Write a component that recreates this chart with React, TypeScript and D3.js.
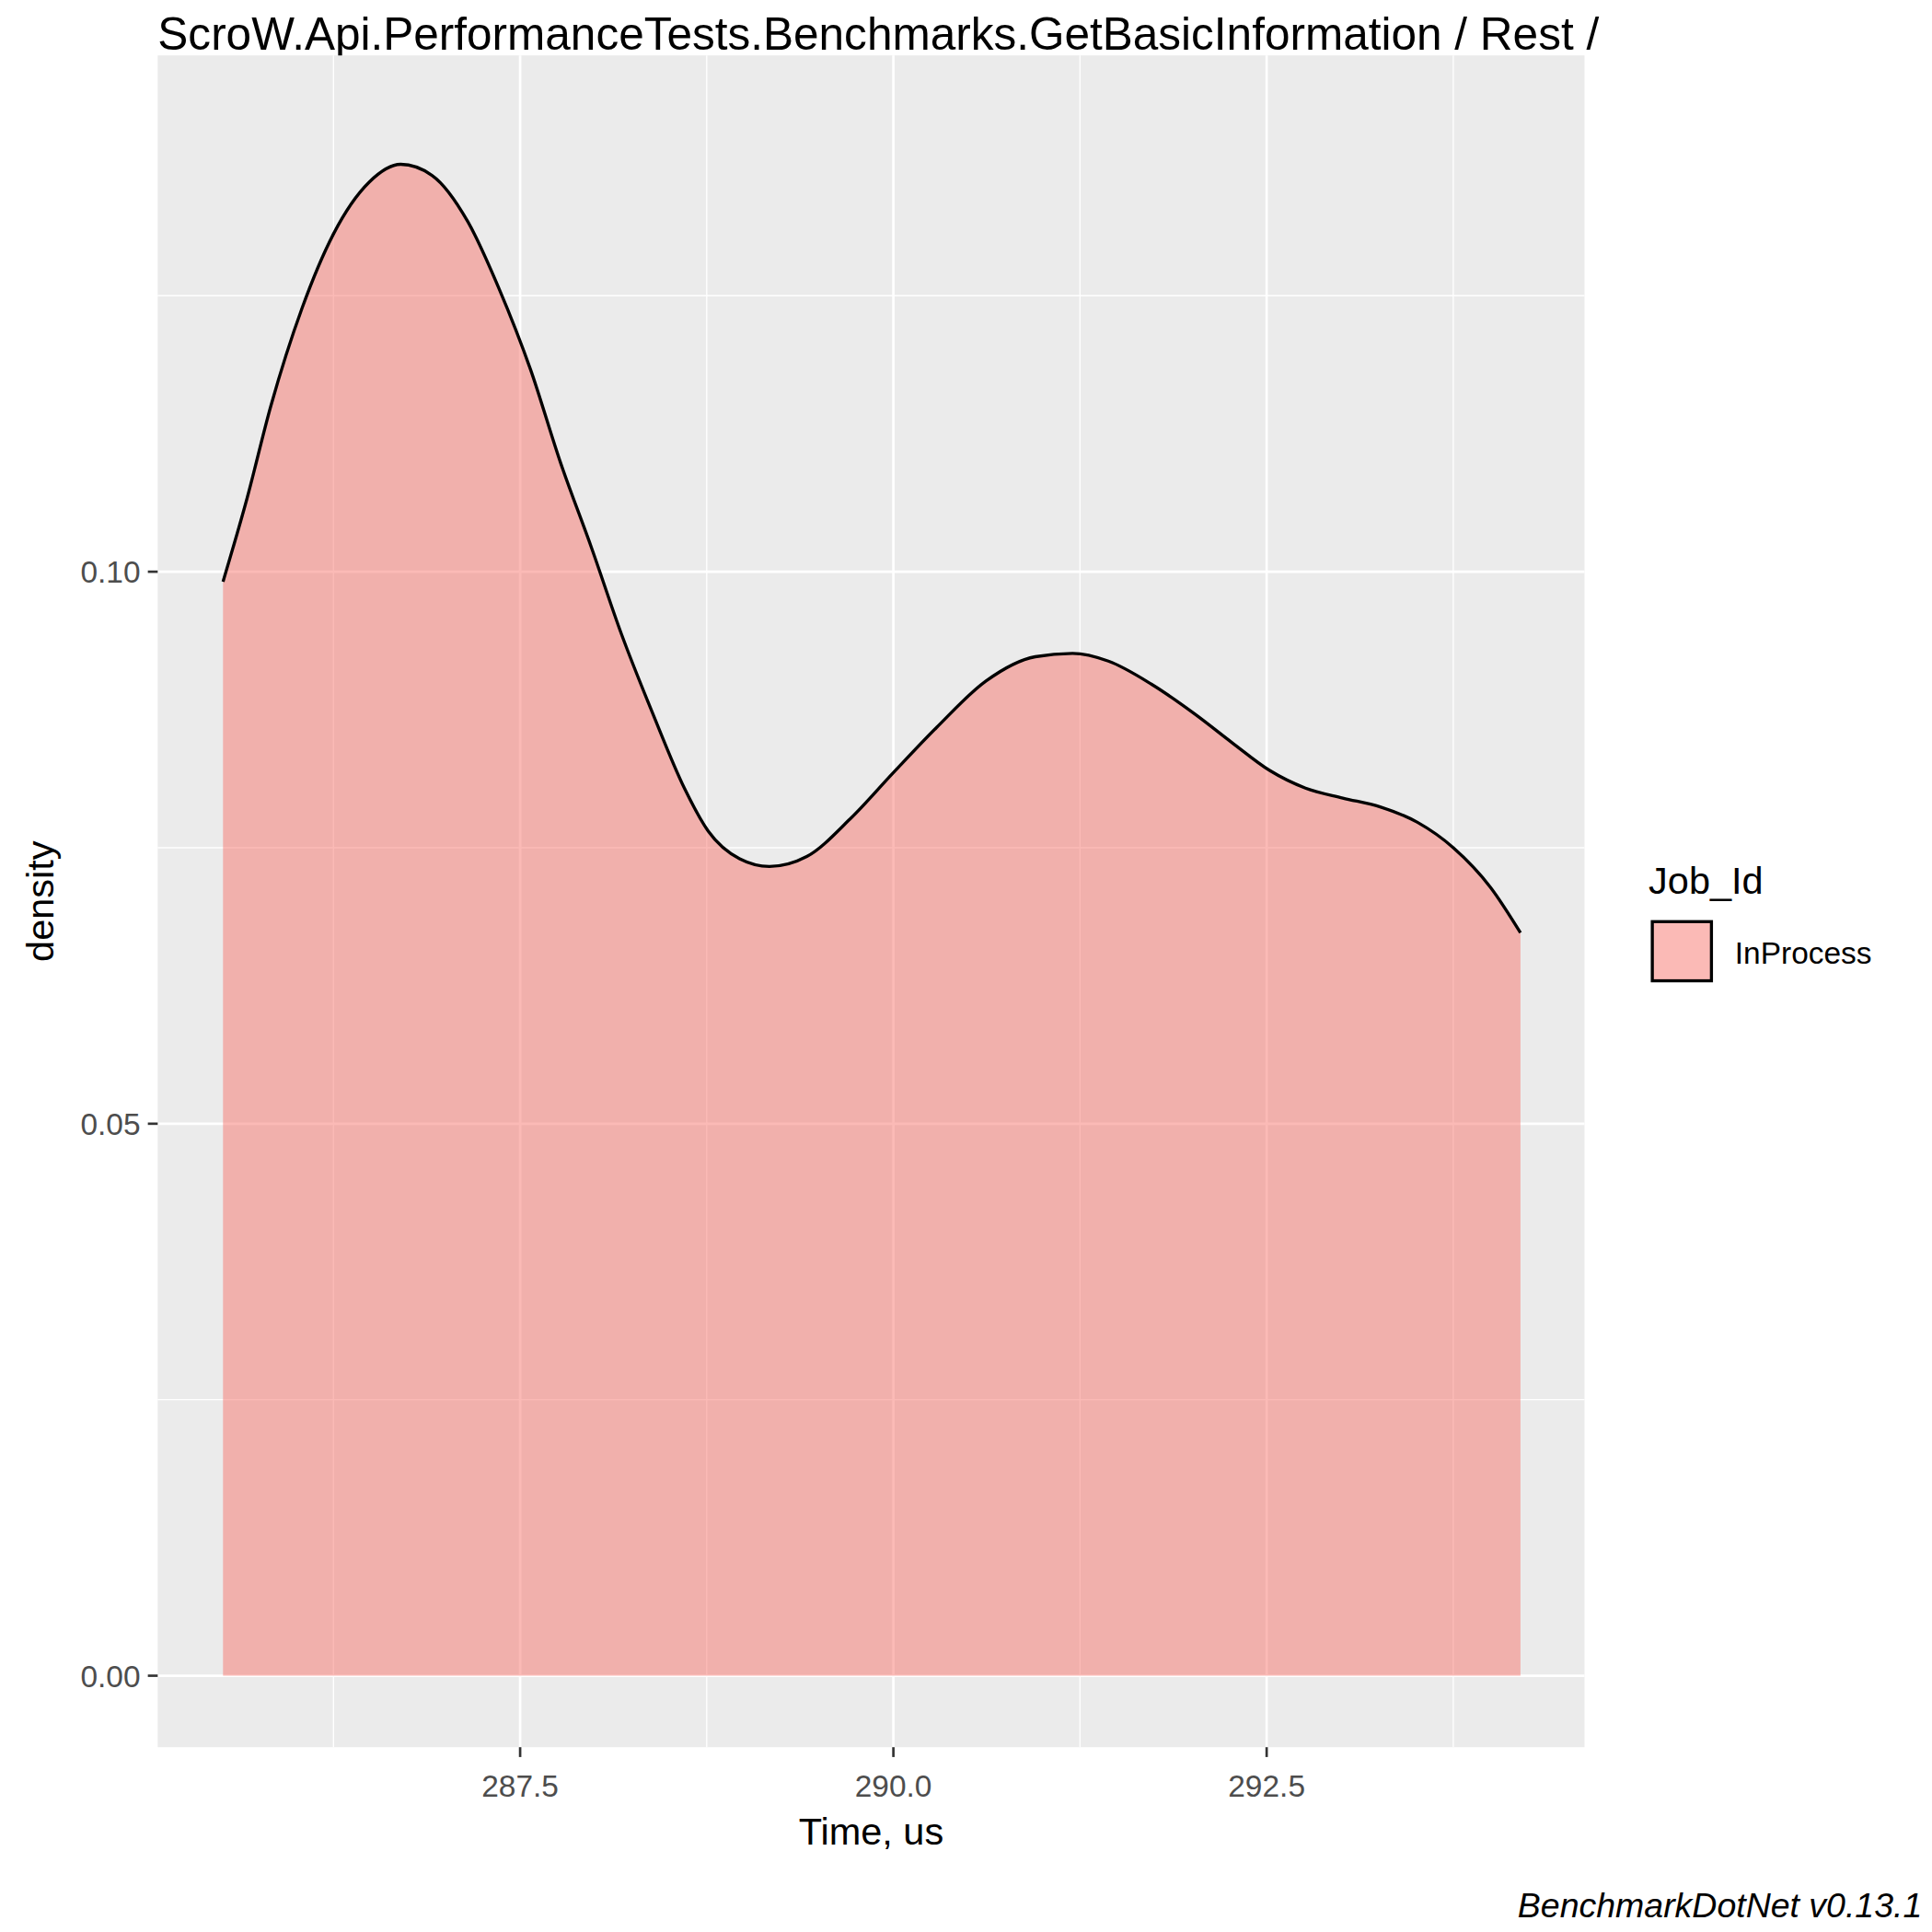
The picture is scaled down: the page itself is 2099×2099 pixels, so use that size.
import React from 'react';
import * as d3 from 'd3';

const title = 'ScroW.Api.PerformanceTests.Benchmarks.GetBasicInformation / Rest /';
const timeUs = [285.51, 285.67, 285.83, 286.04, 286.25, 286.49, 286.7, 286.91, 287.15, 287.36, 287.57, 287.77, 287.98, 288.18, 288.39, 288.6, 288.76, 288.97, 289.17, 289.42, 289.71, 290.0, 290.29, 290.62, 290.95, 291.2, 291.44, 291.73, 292.02, 292.27, 292.52, 292.76, 293.01, 293.26, 293.51, 293.75, 294.0, 294.2];
const density = [0.0991, 0.1066, 0.115, 0.1239, 0.1306, 0.1353, 0.1369, 0.1359, 0.1317, 0.1256, 0.1183, 0.1099, 0.1021, 0.0943, 0.0871, 0.0804, 0.0765, 0.074, 0.0733, 0.0742, 0.0776, 0.0818, 0.0859, 0.0901, 0.0923, 0.0926, 0.0919, 0.0898, 0.0871, 0.0845, 0.082, 0.0804, 0.0795, 0.0787, 0.0773, 0.075, 0.0714, 0.0673];
const xMajor = [287.5, 290.0, 292.5];
const xMinor = [286.25, 288.75, 291.25, 293.75];
const yMajor = [0, 0.05, 0.1];
const yMinor = [0.025, 0.075, 0.125];

const S = 2099 / 1568;
const L = 128, R = 1286, T = 45, B = 1418;
const font = 'Liberation Sans, Arial, sans-serif';

export default function App() {
  const x = d3.scaleLinear().domain([285.51, 294.2]).range([181, 1234]);
  const y = d3.scaleLinear().domain([0, 0.1]).range([1360, 464]);
  const pts = timeUs.map((t, i) => [t, density[i]] as [number, number]);
  const area = d3.area<[number, number]>().x(d => x(d[0])).y0(y(0)).y1(d => y(d[1])).curve(d3.curveMonotoneX);
  const line = d3.line<[number, number]>().x(d => x(d[0])).y(d => y(d[1])).curve(d3.curveMonotoneX);

  return (
    <svg width={2099} height={2099} style={{ position: 'absolute', left: 0, top: 0, background: '#fff' }}>
      <g transform={`scale(${S})`} fontFamily={font}>
        <text x={128} y={40} fontSize={37}>{title}</text>
        <rect x={L} y={T} width={R - L} height={B - T} fill="#EBEBEB" />
        {yMinor.map(v => <line key={'ym' + v} x1={L} x2={R} y1={y(v)} y2={y(v)} stroke="#fff" strokeWidth={1} />)}
        {xMinor.map(v => <line key={'xm' + v} x1={x(v)} x2={x(v)} y1={T} y2={B} stroke="#fff" strokeWidth={1} />)}
        {yMajor.map(v => <line key={'yM' + v} x1={L} x2={R} y1={y(v)} y2={y(v)} stroke="#fff" strokeWidth={2} />)}
        {xMajor.map(v => <line key={'xM' + v} x1={x(v)} x2={x(v)} y1={T} y2={B} stroke="#fff" strokeWidth={2} />)}
        <path d={area(pts) || ''} fill="#F8766D" fillOpacity={0.5} />
        <path d={line(pts) || ''} fill="none" stroke="#000" strokeWidth={2.5} />
        {yMajor.map(v => (
          <g key={'yt' + v}>
            <line x1={L - 8} x2={L} y1={y(v)} y2={y(v)} stroke="#333" strokeWidth={2} />
            <text x={L - 14} y={y(v) + 9} fontSize={25} fill="#4D4D4D" textAnchor="end">{v.toFixed(2)}</text>
          </g>
        ))}
        {xMajor.map(v => (
          <g key={'xt' + v}>
            <line x1={x(v)} x2={x(v)} y1={B} y2={B + 8} stroke="#333" strokeWidth={2} />
            <text x={x(v)} y={B + 40} fontSize={25} fill="#4D4D4D" textAnchor="middle">{v.toFixed(1)}</text>
          </g>
        ))}
        <text x={(L + R) / 2} y={1497} fontSize={31} textAnchor="middle">Time, us</text>
        <text transform={`translate(43,${(T + B) / 2}) rotate(-90)`} fontSize={31} textAnchor="middle">density</text>
        <text x={1338} y={725} fontSize={31}>Job_Id</text>
        <rect x={1341} y={748} width={48} height={48} fill="#F8766D" fillOpacity={0.5} stroke="#000" strokeWidth={2.5} />
        <text x={1408} y={782} fontSize={25}>InProcess</text>
        <text x={1560} y={1556} fontSize={28} fontStyle="italic" textAnchor="end">BenchmarkDotNet v0.13.1</text>
      </g>
    </svg>
  );
}
